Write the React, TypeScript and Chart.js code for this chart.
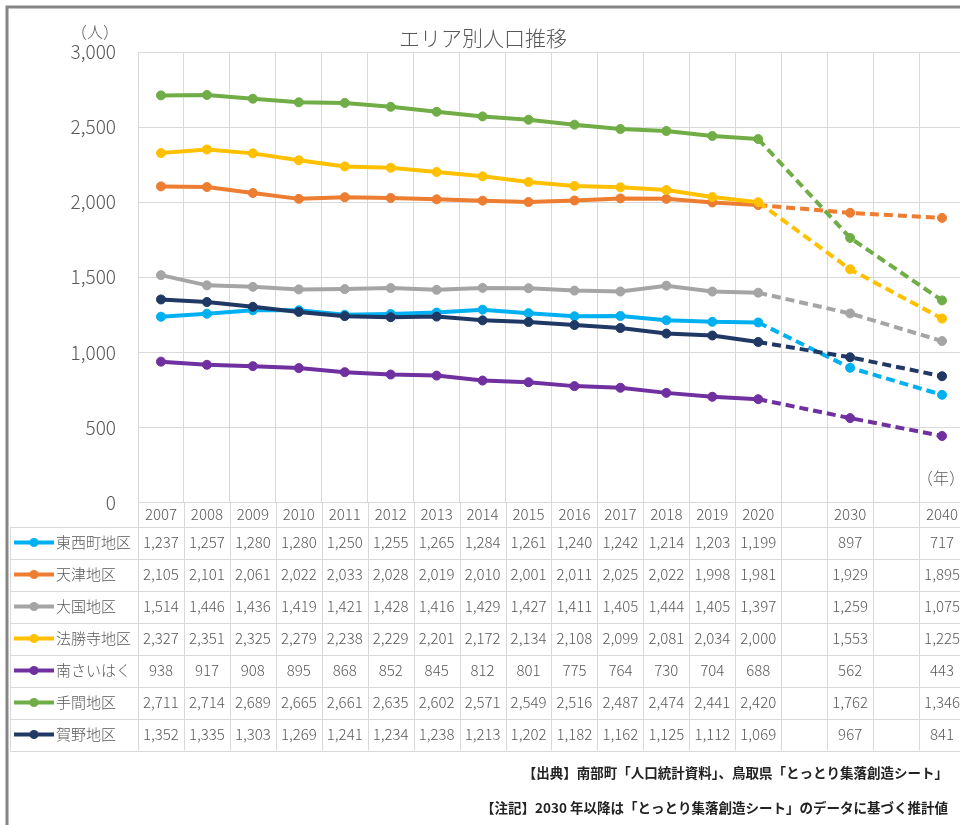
import { useEffect, useRef } from "react";
import { Chart, registerables } from "chart.js";

Chart.register(...registerables);

// Year categories; blank slots keep the projection years spaced like the source table
const years = [
  "2007", "2008", "2009", "2010", "2011", "2012", "2013", "2014",
  "2015", "2016", "2017", "2018", "2019", "2020", "", "2030", "", "2040",
];

const areaNames = ["東西町地区", "天津地区", "大国地区", "法勝寺地区", "南さいはく", "手間地区", "賀野地区"];

const higashinishimachi = [1237, 1257, 1280, 1280, 1250, 1255, 1265, 1284, 1261, 1240, 1242, 1214, 1203, 1199, null, 897, null, 717];
const amatsu = [2105, 2101, 2061, 2022, 2033, 2028, 2019, 2010, 2001, 2011, 2025, 2022, 1998, 1981, null, 1929, null, 1895];
const ookuni = [1514, 1446, 1436, 1419, 1421, 1428, 1416, 1429, 1427, 1411, 1405, 1444, 1405, 1397, null, 1259, null, 1075];
const hosshoji = [2327, 2351, 2325, 2279, 2238, 2229, 2201, 2172, 2134, 2108, 2099, 2081, 2034, 2000, null, 1553, null, 1225];
const minamisaihaku = [938, 917, 908, 895, 868, 852, 845, 812, 801, 775, 764, 730, 704, 688, null, 562, null, 443];
const tema = [2711, 2714, 2689, 2665, 2661, 2635, 2602, 2571, 2549, 2516, 2487, 2474, 2441, 2420, null, 1762, null, 1346];
const kano = [1352, 1335, 1303, 1269, 1241, 1234, 1238, 1213, 1202, 1182, 1162, 1125, 1112, 1069, null, 967, null, 841];

const seriesValues = [higashinishimachi, amatsu, ookuni, hosshoji, minamisaihaku, tema, kano];
const seriesColors = ["#00B0F0", "#ED7D31", "#A5A5A5", "#FFC000", "#7030A0", "#70AD47", "#203864"];

const yTicks = [0, 500, 1000, 1500, 2000, 2500, 3000];
const lastActualIndex = 13;

const FONT = "'Noto Sans CJK JP', 'Noto Sans', sans-serif";
const TEXT = "#595959";
const GRID = "#d9d9d9";

const fmt = (v: number) => v.toLocaleString("en-US");

// Header row height under the axis and row height of the data table
const HEADER_H = 24;
const ROW_H = 32;

const framePlugin = {
  id: "frameAndTable",
  beforeDraw(chart: any) {
    const { ctx, width, height } = chart;
    ctx.save();
    ctx.fillStyle = "#ffffff";
    ctx.fillRect(0, 0, width, height);
    ctx.restore();
  },
  afterDraw(chart: any) {
    const { ctx, chartArea, width } = chart;
    const x = chart.scales.x;
    const colW = x.getPixelForValue(1) - x.getPixelForValue(0);
    const tableTop = chartArea.bottom + HEADER_H;
    const tableBottom = tableTop + ROW_H * seriesValues.length;
    ctx.save();

    // outer frame
    ctx.strokeStyle = "#868686";
    ctx.lineWidth = 3;
    ctx.strokeRect(7, 7, width + 20, chart.height + 20);

    // title and unit captions
    ctx.fillStyle = TEXT;
    ctx.textBaseline = "middle";
    ctx.textAlign = "center";
    ctx.font = `300 21px ${FONT}`;
    ctx.fillText("エリア別人口推移", 483, 38);
    ctx.font = `300 16px ${FONT}`;
    ctx.fillText("（人）", 95, 32);
    ctx.fillText("（年）", 941, 478);

    // table grid
    ctx.strokeStyle = GRID;
    ctx.lineWidth = 1;
    ctx.beginPath();
    for (let r = 0; r <= seriesValues.length; r++) {
      const y = Math.round(tableTop + r * ROW_H) + 0.5;
      ctx.moveTo(10, y);
      ctx.lineTo(width, y);
    }
    ctx.moveTo(10.5, tableTop);
    ctx.lineTo(10.5, tableBottom);
    for (let i = 0; i <= years.length; i++) {
      const gx = Math.round(x.getPixelForValue(0) - colW / 2 + i * colW) + 0.5;
      ctx.moveTo(gx, chartArea.bottom);
      ctx.lineTo(gx, tableBottom);
    }
    ctx.stroke();

    // rows: legend key, area name, values
    seriesValues.forEach((vals, r) => {
      const cy = tableTop + r * ROW_H + ROW_H / 2;
      const color = seriesColors[r];
      ctx.strokeStyle = color;
      ctx.lineWidth = 4;
      ctx.beginPath();
      ctx.moveTo(14, cy);
      ctx.lineTo(54, cy);
      ctx.stroke();
      ctx.fillStyle = color;
      ctx.beginPath();
      ctx.arc(34, cy, 4.5, 0, Math.PI * 2);
      ctx.fill();

      ctx.fillStyle = TEXT;
      ctx.font = `300 15px ${FONT}`;
      ctx.textAlign = "left";
      ctx.fillText(areaNames[r], 56, cy);
      ctx.textAlign = "center";
      vals.forEach((v, i) => {
        if (v == null) return;
        ctx.fillText(fmt(v), x.getPixelForValue(i), cy);
      });
    });

    // notes
    ctx.fillStyle = "#222222";
    ctx.font = `bold 13.5px ${FONT}`;
    ctx.textAlign = "right";
    ctx.fillText("【出典】南部町「人口統計資料」、鳥取県「とっとり集落創造シート」", 948, 773);
    ctx.fillText("【注記】2030 年以降は「とっとり集落創造シート」のデータに基づく推計値", 948, 808);

    ctx.restore();
  },
};

export default function App() {
  const canvasRef = useRef<HTMLCanvasElement | null>(null);

  useEffect(() => {
    if (!canvasRef.current) return;
    const n = seriesValues.length;
    const chart = new Chart(canvasRef.current, {
      type: "line",
      data: {
        labels: years,
        datasets: seriesValues.map((vals, i) => ({
          label: areaNames[i],
          data: vals,
          borderColor: seriesColors[i],
          backgroundColor: seriesColors[i],
          pointBackgroundColor: seriesColors[i],
          pointBorderColor: seriesColors[i],
          borderWidth: 4,
          pointRadius: 4.5,
          pointBorderWidth: 1,
          spanGaps: true,
          tension: 0,
          order: n - 1 - i,
          segment: {
            borderDash: (ctx: any) => (ctx.p0DataIndex >= lastActualIndex ? [9, 5] : undefined),
          },
        })),
      },
      options: {
        responsive: false,
        animation: false,
        layout: { padding: { top: 52, right: 35, bottom: 825 - 502.5 - HEADER_H, left: 0 } },
        plugins: {
          legend: { display: false },
          tooltip: { enabled: false },
          title: { display: false },
        },
        scales: {
          x: {
            type: "category",
            offset: true,
            grid: { offset: true, color: GRID, drawTicks: false },
            border: { color: GRID },
            ticks: {
              color: TEXT,
              font: { family: FONT, size: 15, weight: "300" },
              padding: 3,
              maxRotation: 0,
              autoSkip: false,
            },
            afterFit: (s: any) => {
              s.height = HEADER_H;
            },
          },
          y: {
            min: 0,
            max: 3000,
            afterBuildTicks: (s: any) => {
              s.ticks = yTicks.map((v) => ({ value: v }));
            },
            grid: { color: GRID, drawTicks: false },
            border: { display: false },
            ticks: {
              color: TEXT,
              font: { family: FONT, size: 19, weight: "300" },
              padding: 22,
              callback: (v: any) => fmt(Number(v)),
            },
            afterFit: (s: any) => {
              s.width = 138;
            },
          },
        },
      },
      plugins: [framePlugin],
    });
    return () => chart.destroy();
  }, []);

  return (
    <div
      style={{
        position: "fixed",
        left: 0,
        top: 0,
        width: 960,
        height: 825,
        overflow: "hidden",
        background: "#ffffff",
      }}
    >
      <canvas ref={canvasRef} width={1000} height={825} style={{ display: "block" }} />
    </div>
  );
}
